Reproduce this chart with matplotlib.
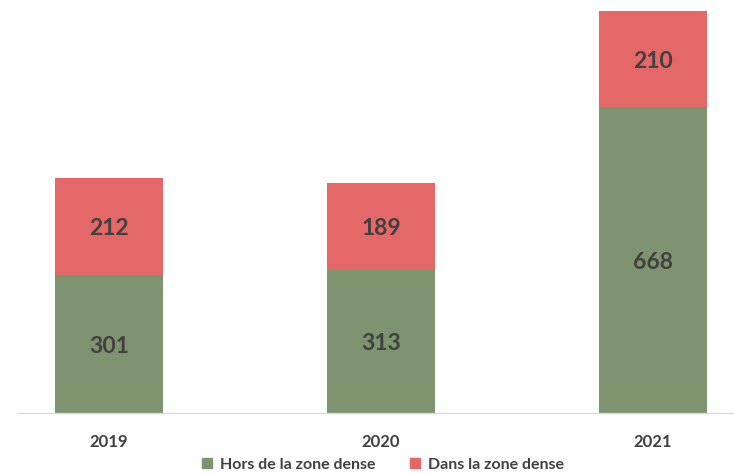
import matplotlib.pyplot as plt
from matplotlib.patches import Patch

years = ["2019", "2020", "2021"]
hors_zone = [301, 313, 668]
dans_zone = [212, 189, 210]
series_names = ["Hors de la zone dense", "Dans la zone dense"]

green = "#7E9470"
red = "#E46868"
text_col = "#404040"

plt.rcParams["font.family"] = ["Lato", "DejaVu Sans"]

W, H = 734, 474
fig = plt.figure(figsize=(W / 100, H / 100), dpi=100)

# axes: baseline 413 px from top, category spacing 272 px
step = 272
left_px = 18
x_lo, x_hi = -(109 - left_px) / step, 2 + (109 - left_px) / step
ax_w = (x_hi - x_lo) * step
ax = fig.add_axes([left_px / W, (H - 413) / H, ax_w / W, 413 / H])

x = list(range(len(years)))
bw = 0.4
ax.bar(x, hors_zone, bw, color=green, label=series_names[0])
ax.bar(x, dans_zone, bw, bottom=hors_zone, color=red, label=series_names[1])

for xi, h, d in zip(x, hors_zone, dans_zone):
    ax.text(xi, h / 2, str(h), ha="center", va="center_baseline", fontsize=16.5,
            fontweight="bold", color=text_col)
    ax.text(xi, h + d / 2, str(d), ha="center", va="center_baseline", fontsize=16.5,
            fontweight="bold", color=text_col)

ax.set_xlim(x_lo, x_hi)
ax.set_ylim(0, 878 * 413 / 402)
ax.set_xticks(x)
ax.set_xticklabels(years, fontsize=12, fontweight="bold", color=text_col)
ax.tick_params(axis="x", length=0, pad=15)
ax.set_yticks([])
for s in ["top", "right", "left"]:
    ax.spines[s].set_visible(False)
ax.spines["bottom"].set_color("#D9D9D9")
ax.spines["bottom"].set_linewidth(1.0)

handles = [Patch(color=green), Patch(color=red)]
leg = fig.legend(handles, series_names, loc="center", ncol=2,
                 bbox_to_anchor=(383 / W, 1 - 465 / H), frameon=False,
                 handlelength=0.6, handleheight=0.6, handletextpad=0.5,
                 columnspacing=2.2, borderpad=0.1,
                 prop={"size": 11.5, "weight": "bold"})
for t in leg.get_texts():
    t.set_color(text_col)

fig.savefig("out.png", dpi=100)
